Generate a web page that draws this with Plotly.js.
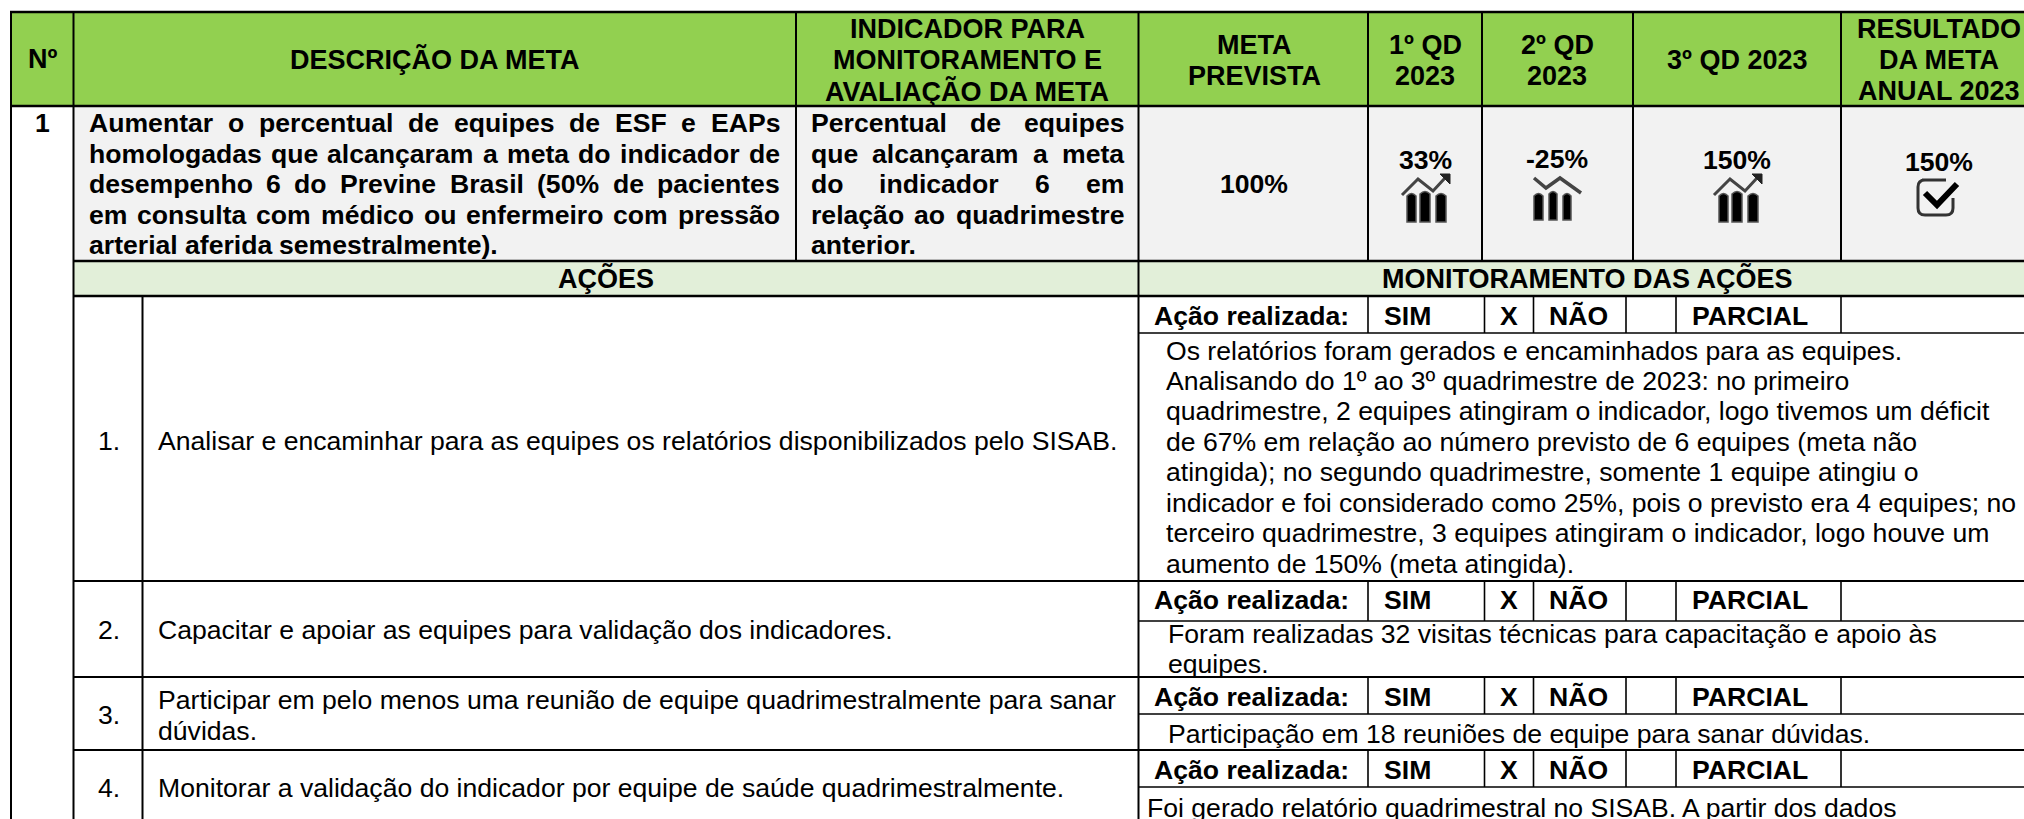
<!DOCTYPE html>
<html><head><meta charset="utf-8">
<script src="https://cdn.plot.ly/plotly-3.0.1.min.js"></script>
<style>html,body{margin:0;padding:0;background:#fff;overflow:hidden}</style></head>
<body><div id="chart" style="width:2024px;height:819px"></div>
<script>
// ---- content ----
const headerCells = [
  [["Nº"], 42, 59],
  [["DESCRIÇÃO DA META"], 435, 59],
  [["INDICADOR PARA","MONITORAMENTO E","AVALIAÇÃO DA META"], 967, 60],
  [["META","PREVISTA"], 1254, 60],
  [["1º QD","2023"], 1425, 60],
  [["2º QD","2023"], 1557, 60],
  [["3º QD 2023"], 1737, 60],
  [["RESULTADO","DA META","ANUAL 2023"], 1939, 60]
];
const goalNumber = "1";
const goalLines = ["Aumentar o percentual de equipes de ESF e EAPs","homologadas que alcançaram a meta do indicador de","desempenho 6 do Previne Brasil (50% de pacientes","em consulta com médico ou enfermeiro com pressão","arterial aferida semestralmente)."];
const indicatorLines = ["Percentual de equipes","que alcançaram a meta","do indicador 6 em","relação ao quadrimestre","anterior."];
const targetValue = "100%";
const quarterValues = ["33%","-25%","150%"];
const annualResult = "150%";
const sectionTitles = ["AÇÕES","MONITORAMENTO DAS AÇÕES"];
const actionNumbers = ["1.","2.","3.","4."];
const actionTexts = [
  ["Analisar e encaminhar para as equipes os relatórios disponibilizados pelo SISAB."],
  ["Capacitar e apoiar as equipes para validação dos indicadores."],
  ["Participar em pelo menos uma reunião de equipe quadrimestralmente para sanar","dúvidas."],
  ["Monitorar a validação do indicador por equipe de saúde quadrimestralmente."]
];
const statusLabels = ["Ação realizada:","SIM","X","NÃO","PARCIAL"];
const monitorTexts = [
  ["Os relatórios foram gerados e encaminhados para as equipes.","Analisando do 1º ao 3º quadrimestre de 2023: no primeiro","quadrimestre, 2 equipes atingiram o indicador, logo tivemos um déficit","de 67% em relação ao número previsto de 6 equipes (meta não","atingida); no segundo quadrimestre, somente 1 equipe atingiu o","indicador e foi considerado como 25%, pois o previsto era 4 equipes; no","terceiro quadrimestre, 3 equipes atingiram o indicador, logo houve um","aumento de 150% (meta atingida)."],
  ["Foram realizadas 32 visitas técnicas para capacitação e apoio às","equipes."],
  ["Participação em 18 reuniões de equipe para sanar dúvidas."],
  ["Foi gerado relatório quadrimestral no SISAB. A partir dos dados"]
];

// ---- layout of the sheet (pixel-valued axes) ----
const FONT = "Liberation Sans, Arial, sans-serif";
const BODY = 26.6, HEAD = 27;
const W = 2024, H = 819;
const GREEN = "#92D050", GREY = "#F2F2F2", PALE = "#E2EFD9";
const ann = [], shapes = [];
const cv = document.createElement("canvas").getContext("2d");
function text(t, x, y, anchor, size, bold) {
  ann.push({x, y, xref:"x", yref:"y", text: bold ? "<b>"+t+"</b>" : t, showarrow:false,
    xanchor:anchor, yanchor:"middle", align:anchor, borderpad:0, borderwidth:0,
    font:{family:FONT, size, color:"#000"}});
}
function justified(lines, left, right, yTop, step) {
  cv.font = "bold "+BODY+"px 'Liberation Sans'";
  const sp = cv.measureText(" ").width;
  lines.forEach((ln, i) => {
    const words = ln.split(" ");
    const sum = words.reduce((a,w)=>a+cv.measureText(w).width,0);
    const gap = i === lines.length-1 ? sp : (right-left-sum)/(words.length-1);
    let x = left;
    words.forEach(w => { text(w, x, yTop+i*step, "left", BODY, true); x += cv.measureText(w).width+gap; });
  });
}
function rect(x0,y0,x1,y1,c){shapes.push({type:"rect",xref:"x",yref:"y",x0,y0,x1,y1,fillcolor:c,line:{width:0},layer:"below"});}
function seg(x0,y0,x1,y1,w){shapes.push({type:"line",xref:"x",yref:"y",x0,y0,x1,y1,line:{color:"#000",width:w}});}
function path(d,line,fill,lw){shapes.push({type:"path",xref:"x",yref:"y",path:d,fillcolor:fill||"rgba(0,0,0,0)",line:{color:line,width:lw}});}

// fills
rect(11,12,W,106,GREEN); rect(73,106,W,261,GREY); rect(73,261,W,296,PALE);
// main rules
[12,106].forEach(y=>seg(10,y,W,y,2.5));
[261,296].forEach(y=>seg(73,y,W,y,2.5));
[11,73.5,1138.5].forEach(x=>seg(x,12,x,H,2));
seg(142.5,296,142.5,H,2);
[796,1368,1482,1633,1841].forEach(x=>seg(x,12,x,261,2));
const statusRows = [[296,333],[581,621],[677,714],[750,787]];
const rowMid = [316,600,697,770];
statusRows.forEach(r=>{
  [1368,1484.5,1533.5,1626,1676,1841].forEach(x=>seg(x,r[0],x,r[1],1.6));
  seg(1138,r[1],W,r[1],1.3);
});
[581,677,750].forEach(y=>seg(73,y,W,y,2.2));

// header text
headerCells.forEach(c=>{
  const n=c[0].length; c[0].forEach((t,i)=>text(t,c[1],c[2]+(i-(n-1)/2)*31,"center",HEAD,true));
});
// goal row
text(goalNumber,42,123,"center",BODY,true);
justified(goalLines,88.7,780,123,30.5);
justified(indicatorLines,811,1124,123,30.5);
text(targetValue,1254,184,"center",BODY,true);
[[1425,160],[1557,159],[1737,160]].forEach((p,i)=>text(quarterValues[i],p[0],p[1],"center",BODY,true));
text(annualResult,1939,162,"center",BODY,true);
text(sectionTitles[0],606,278,"center",HEAD,true);
text(sectionTitles[1],1587,278,"center",HEAD,true);
// actions
const numY=[441,630,715,788];
actionNumbers.forEach((t,i)=>text(t,109,numY[i],"center",BODY,false));
const actY=[[441],[630],[699.5,730.5],[788]];
actionTexts.forEach((ls,i)=>ls.forEach((t,j)=>text(t,158,actY[i][j],"left",BODY,false)));
// status rows
rowMid.forEach(y=>{
  text(statusLabels[0],1154,y,"left",BODY,true);
  text(statusLabels[1],1384,y,"left",BODY,true);
  text(statusLabels[2],1509,y,"center",BODY,true);
  text(statusLabels[3],1549,y,"left",BODY,true);
  text(statusLabels[4],1691.5,y,"left",BODY,true);
});
// monitor text
const monY=[[350.5,380.5,411,441.5,472,502.5,533,563.5],[634,664],[733.5],[808]];
const monX=[1166,1168,1168,1147];
monitorTexts.forEach((ls,i)=>ls.forEach((t,j)=>text(t,monX[i],monY[i][j],"left",BODY,false)));

// icons
function bar(x0,x1,yt,yb){path(`M${x0} ${yb} L${x0} ${yt+2} Q${(x0+x1)/2} ${yt-3} ${x1} ${yt+2} L${x1} ${yb} Z`,"#555","#000",1.5);}
function upIcon(dx){
  bar(1407+dx,1416+dx,194,222); bar(1420+dx,1430+dx,192,222); bar(1436+dx,1446+dx,194,222);
  path(`M${1402+dx} 195 L${1418+dx} 179 L${1433+dx} 191 L${1445+dx} 178`,"#444",null,3);
  path(`M${1440+dx} 174 L${1450+dx} 174 L${1450+dx} 184 Z`,"#222","#222",1);
}
upIcon(0); upIcon(312);
bar(1534,1543,194,220); bar(1549,1557,192,220); bar(1563,1571,194,220);
path("M1534 178 L1546 188 L1560 178 L1581 193","#444",null,3.5);
path("M1922 180 L1946 180 M1953 198 L1953 208 Q1953 215 1946 215 L1925 215 Q1918 215 1918 208 L1918 187 Q1918 180 1925 180","#333",null,3);
path("M1925 193 L1937 205 L1957 184","#000",null,6);

Plotly.newPlot("chart",[{x:[0],y:[0],mode:"none",type:"scatter",hoverinfo:"skip",showlegend:false}],{
  width:W,height:H,margin:{l:0,r:0,t:0,b:0,pad:0},paper_bgcolor:"#fff",plot_bgcolor:"#fff",showlegend:false,
  xaxis:{range:[0,W],visible:false,fixedrange:true},
  yaxis:{range:[H,0],visible:false,fixedrange:true},
  shapes,annotations:ann
},{staticPlot:true,displayModeBar:false});
</script></body></html>
